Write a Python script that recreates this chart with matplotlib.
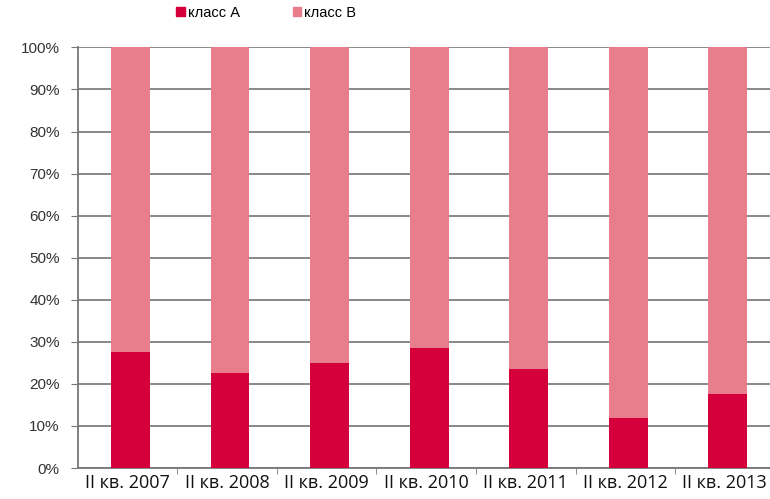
import matplotlib
matplotlib.use("Agg")
import matplotlib.pyplot as plt
from matplotlib.patches import Patch

categories = ["II кв. 2007", "II кв. 2008", "II кв. 2009", "II кв. 2010",
              "II кв. 2011", "II кв. 2012", "II кв. 2013"]
class_a = [27.5, 22.5, 25.0, 28.5, 23.5, 12.0, 17.5]
class_b = [100 - v for v in class_a]
yticks = list(range(0, 101, 10))

col_a = "#D5003B"
col_b = "#E87D8C"

fig = plt.figure(figsize=(7.70, 4.99), dpi=100)
ax = fig.add_axes([0.101, 0.062, 0.905, 0.843])

x = list(range(len(categories)))
w = 0.39
ax.bar([i + 0.03 for i in x], class_a, width=w, color=col_a, zorder=3, label="класс А")
ax.bar([i + 0.03 for i in x], class_b, width=w, bottom=class_a, color=col_b, zorder=3,
       label="класс В")

ax.set_xlim(-0.5, len(categories) - 0.5)
ax.set_ylim(0, 100)
ax.set_yticks(yticks)
ax.set_yticklabels([f"{v}%" for v in yticks], fontsize=11, color="#333333",
                   family="Liberation Sans")
ax.grid(axis="y", color="#7f7f7f", linewidth=1.3, zorder=0)
ax.set_xticks(x)
ax.set_xticklabels(categories, fontsize=13, color="#111111", family="Open Sans")
ax.set_xticks([i + 0.5 for i in range(len(categories) - 1)], minor=True)
ax.tick_params(axis="x", which="major", length=0, pad=4)
ax.tick_params(axis="x", which="minor", length=4, color="#777777", direction="out")
ax.tick_params(axis="y", length=5, color="#777777", direction="out", pad=8)
for s in ["top", "right"]:
    ax.spines[s].set_visible(False)
ax.spines["left"].set_color("#777777")
ax.spines["bottom"].set_color("#777777")
ax.spines["left"].set_linewidth(1.3)
ax.spines["bottom"].set_linewidth(1.3)

handles = [Patch(color=col_a), Patch(color=col_b)]
fig.legend(handles, ["класс А", "класс В"], loc="upper left",
           bbox_to_anchor=(0.212, 1.015), ncol=2, frameon=False,
           handlelength=0.6, handleheight=0.6, handletextpad=0.2,
           columnspacing=3.6, prop={"family": "Liberation Sans", "size": 10.5})

fig.savefig("out.png", dpi=100, facecolor="white")
